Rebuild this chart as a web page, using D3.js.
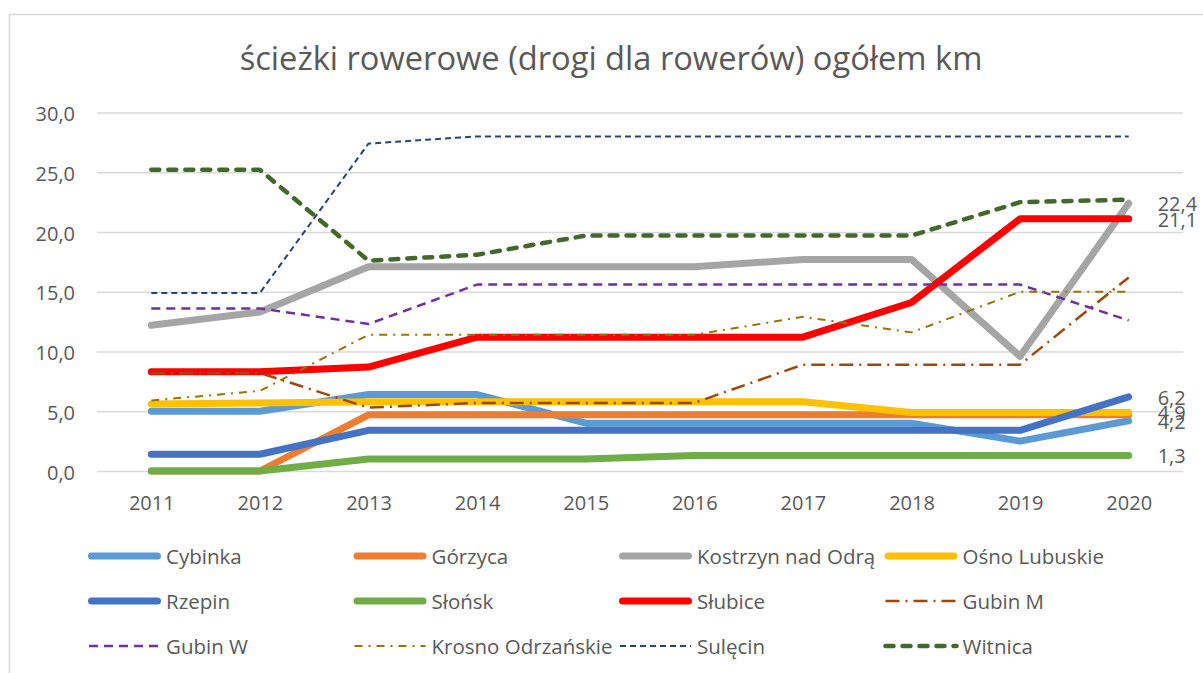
<!DOCTYPE html>
<html>
<head>
<meta charset="utf-8">
<script src="https://cdn.jsdelivr.net/npm/d3@7"></script>
<style>
  body { margin: 0; background: #fff; }
  svg { display: block; font-family: "Open Sans", sans-serif; }
</style>
</head>
<body>
<svg id="chart" width="1203" height="673"></svg>
<script>
// Data
const years = ["2011", "2012", "2013", "2014", "2015", "2016", "2017", "2018", "2019", "2020"]
const seriesNames = ["Cybinka", "Górzyca", "Kostrzyn nad Odrą", "Ośno Lubuskie", "Rzepin", "Słońsk",
                     "Słubice", "Gubin M", "Gubin W", "Krosno Odrzańskie", "Sulęcin", "Witnica"]
const cybinka  = [5.0, 5.0, 6.4, 6.4, 4.0, 4.0, 4.0, 4.0, 2.5, 4.2]
const gorzyca  = [0, 0, 4.7, 4.7, 4.7, 4.7, 4.7, 4.7, 4.7, 4.7]
const kostrzyn = [12.2, 13.3, 17.1, 17.1, 17.1, 17.1, 17.7, 17.7, 9.6, 22.4]
const osno     = [5.6, 5.7, 5.8, 5.8, 5.8, 5.8, 5.8, 4.9, 4.9, 4.9]
const rzepin   = [1.4, 1.4, 3.4, 3.4, 3.4, 3.4, 3.4, 3.4, 3.4, 6.2]
const slonsk   = [0, 0, 1.0, 1.0, 1.0, 1.3, 1.3, 1.3, 1.3, 1.3]
const slubice  = [8.3, 8.3, 8.7, 11.2, 11.2, 11.2, 11.2, 14.1, 21.1, 21.1]
const gubinM   = [8.2, 8.2, 5.3, 5.7, 5.7, 5.7, 8.9, 8.9, 8.9, 16.2]
const gubinW   = [13.6, 13.6, 12.3, 15.6, 15.6, 15.6, 15.6, 15.6, 15.6, 12.6]
const krosno   = [5.9, 6.7, 11.4, 11.4, 11.4, 11.4, 12.9, 11.6, 15.0, 15.0]
const sulecin  = [14.9, 14.9, 27.4, 28.0, 28.0, 28.0, 28.0, 28.0, 28.0, 28.0]
const witnica  = [25.2, 25.2, 17.6, 18.1, 19.7, 19.7, 19.7, 19.7, 22.5, 22.7]
const yTicks = [0, 5, 10, 15, 20, 25, 30]
// series that carry a value label at the last year
const labelled = ["Kostrzyn nad Odrą", "Słubice", "Rzepin", "Ośno Lubuskie", "Cybinka", "Słońsk"]

const allValues = [cybinka, gorzyca, kostrzyn, osno, rzepin, slonsk, slubice, gubinM, gubinW, krosno, sulecin, witnica]

// Line styles, one per series (same order as the names)
const styles = [
    {color: "#5B9BD5", width: 7,   dash: null},
    {color: "#ED7D31", width: 7,   dash: null},
    {color: "#A5A5A5", width: 7,   dash: null},
    {color: "#FFC000", width: 7,   dash: null},
    {color: "#4472C4", width: 7,   dash: null},
    {color: "#70AD47", width: 7,   dash: null},
    {color: "#FF0000", width: 7,   dash: null},
    {color: "#9E480E", width: 2.5, dash: "14,6,2,6"},
    {color: "#7030A0", width: 2.5, dash: "9,6"},
    {color: "#997300", width: 2,   dash: "8,6,2,6"},
    {color: "#264478", width: 2,   dash: "6,4"},
    {color: "#43682B", width: 4.5, dash: "8,9", cap: "round"}
]

const svg = d3.select("#chart")
const textColor = "#595959"
const gridColor = "#D9D9D9"

// chart border
svg.append("rect")
    .attr("x", 9.5).attr("y", 14.5)
    .attr("width", 1210).attr("height", 680)
    .attr("fill", "none").attr("stroke", gridColor).attr("stroke-width", 1.5)

// Title, scaled to the width it has in the reference
const title = svg.append("text")
    .attr("x", 611).attr("y", 70)
    .attr("text-anchor", "middle")
    .attr("fill", textColor)
    .style("font-size", "28px")
    .text("ścieżki rowerowe (drogi dla rowerów) ogółem km")
const tw = title.node().getComputedTextLength()
title.style("font-size", (28 * 743 / tw) + "px")

// Scales
const x = d3.scalePoint().domain(years).range([97, 1183]).padding(0.5)
const y = d3.scaleLinear().domain([0, 30]).range([471, 112.5])

const pl = d3.formatLocale({decimal: ",", thousands: " ", grouping: [3], currency: ["", " zł"]})
const fmt = pl.format(".1f")

// Y axis with gridlines
const yAxis = svg.append("g")
    .attr("transform", "translate(97,0)")
    .call(d3.axisLeft(y).tickValues(yTicks).tickFormat(fmt).tickSize(-1086).tickPadding(22))
yAxis.select(".domain").remove()
yAxis.selectAll(".tick line").attr("stroke", gridColor).attr("stroke-width", 1.3)
yAxis.selectAll(".tick text").attr("fill", textColor).attr("dy", "0.4em")
    .style("font-size", "20px").style("font-family", "Open Sans")

// X axis labels
const xAxis = svg.append("g")
    .attr("transform", "translate(0,471)")
    .call(d3.axisBottom(x).tickSize(0).tickPadding(24.5))
xAxis.select(".domain").remove()
xAxis.selectAll(".tick text").attr("fill", textColor).style("font-size", "20px").style("font-family", "Open Sans")

// Lines
const line = d3.line().x((d, i) => x(years[i])).y(d => y(d))

svg.append("g").selectAll("path")
    .data(allValues)
    .join("path")
    .attr("d", d => line(d))
    .attr("fill", "none")
    .attr("stroke", (d, i) => styles[i].color)
    .attr("stroke-width", (d, i) => styles[i].width)
    .attr("stroke-dasharray", (d, i) => styles[i].dash)
    .attr("stroke-linecap", (d, i) => styles[i].dash ? (styles[i].cap || "butt") : "round")
    .attr("stroke-linejoin", "round")

// End-of-line value labels
const last = years[years.length - 1]
svg.append("g").selectAll("text")
    .data(labelled)
    .join("text")
    .attr("x", x(last) + 29)
    .attr("y", name => y(allValues[seriesNames.indexOf(name)][years.length - 1]))
    .attr("dy", "0.4em")
    .attr("fill", textColor)
    .style("font-size", "20px")
    .text(name => fmt(allValues[seriesNames.indexOf(name)][years.length - 1]))

// Legend: 4 columns, 3 rows
const legend = svg.append("g").selectAll("g")
    .data(seriesNames)
    .join("g")
    .attr("transform", (d, i) => `translate(${88 + (i % 4) * 265.5},${556 + Math.floor(i / 4) * 45})`)

legend.append("line")
    .attr("x1", (d, i) => styles[i].dash ? 1 : 3.5)
    .attr("x2", (d, i) => styles[i].dash ? 72 : 69.5)
    .attr("stroke", (d, i) => styles[i].color)
    .attr("stroke-width", (d, i) => styles[i].width)
    .attr("stroke-dasharray", (d, i) => styles[i].dash)
    .attr("stroke-linecap", (d, i) => styles[i].dash ? (styles[i].cap || "butt") : "round")

legend.append("text")
    .attr("x", 78)
    .attr("dy", "0.38em")
    .attr("fill", textColor)
    .style("font-size", "20.5px")
    .text(d => d)
</script>
</body>
</html>
